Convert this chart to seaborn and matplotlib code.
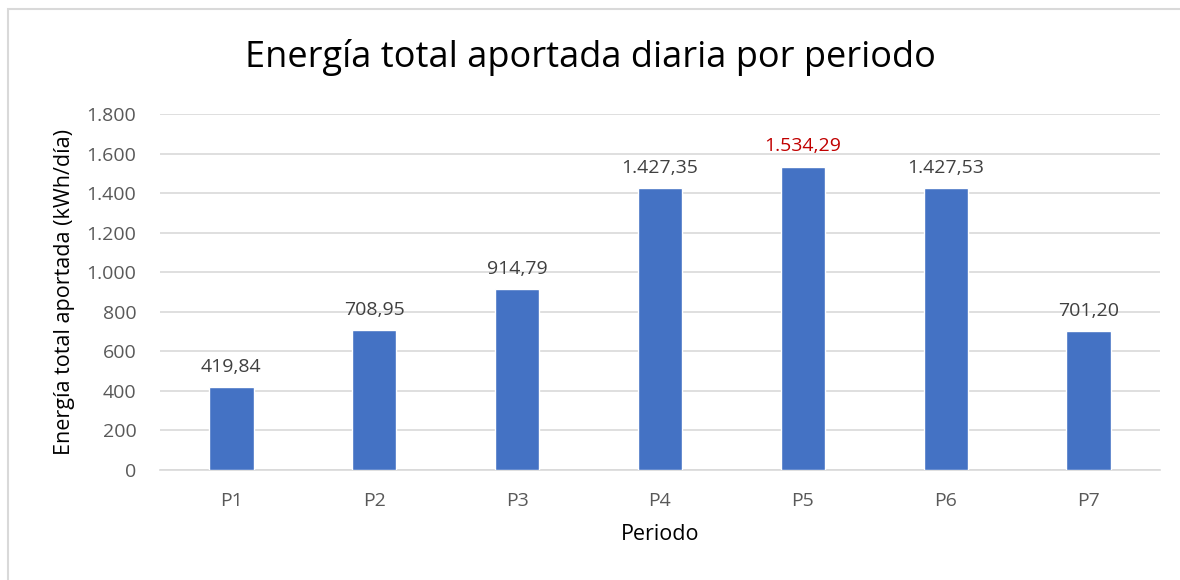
import matplotlib
matplotlib.use("Agg")
import matplotlib.pyplot as plt
import seaborn as sns
import pandas as pd
from matplotlib.patches import Rectangle

periodos = ["P1", "P2", "P3", "P4", "P5", "P6", "P7"]
energia = [419.84, 708.95, 914.79, 1427.35, 1534.29, 1427.53, 701.20]
yticks = [0, 200, 400, 600, 800, 1000, 1200, 1400, 1600, 1800]

def fmt_es(v, dec=2):
    s = f"{v:,.{dec}f}"
    return s.replace(",", "X").replace(".", ",").replace("X", ".")

sns.set_theme(style="white")
plt.rcParams['font.family'] = ['Open Sans', 'DejaVu Sans']

fig = plt.figure(figsize=(11.8, 5.8), dpi=100)
ax = fig.add_axes([160/1180, 1 - 470/580, 1000/1180, 356/580])

df = pd.DataFrame({"Periodo": periodos, "Energia": energia})
sns.barplot(data=df, x="Periodo", y="Energia", color="#4472C4", width=0.31,
            saturation=1, ax=ax, zorder=3)

ax.set_ylim(0, 1800)
ax.set_xlim(-0.5, len(periodos) - 0.5)
ax.set_yticks(yticks)
ax.set_yticklabels([fmt_es(t, 0) for t in yticks], color="#595959", fontsize=14)
ax.tick_params(axis="x", colors="#595959", labelsize=14, length=0, pad=16)
ax.tick_params(axis="y", length=0, pad=17)
for lab in ax.get_xticklabels():
    lab.set_color("#595959")
ax.yaxis.grid(True, color="#D9D9D9", linewidth=1.2, zorder=0)
ax.xaxis.grid(False)
for s in ["top", "right", "left"]:
    ax.spines[s].set_visible(False)
ax.spines["bottom"].set_color("#D9D9D9")
ax.spines["bottom"].set_linewidth(1.2)

ax.set_xlabel("Periodo", fontsize=15.5, color="black", labelpad=10)
ax.set_ylabel("Energía total aportada (kWh/día)", fontsize=15.5, color="black", labelpad=8)

imax = energia.index(max(energia))
for i, v in enumerate(energia):
    ax.annotate(fmt_es(v), (i, v), xytext=(0, 8), textcoords="offset points",
                ha="center", va="bottom", fontsize=14,
                color="#C00000" if i == imax else "#404040")

fig.text(0.5, 1 - 57/580, "Energía total aportada diaria por periodo", ha="center",
         va="center", fontsize=26, color="black")

fig.patches.append(Rectangle((8/1180, -0.1), 1.2, (1 - 9/580) + 0.1,
                             transform=fig.transFigure, fill=False,
                             edgecolor="#D9D9D9", linewidth=1.5))

fig.savefig("out.png", dpi=100, facecolor="white")
